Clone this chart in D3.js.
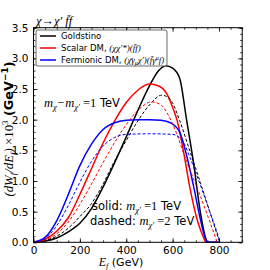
<!DOCTYPE html>
<html>
<head>
<meta charset="utf-8">
<script src="https://cdn.jsdelivr.net/npm/d3@7"></script>
<style>
body { margin: 0; background: #fff; }
svg { display: block; }
.serif { font-family: "Liberation Serif", "DejaVu Serif", serif; font-style: italic; }
.sans { font-family: "DejaVu Sans", sans-serif; }
</style>
</head>
<body>
<svg></svg>
<script>
const width = 270;
const height = 270;
const plotLeft = 33.5, plotRight = 242.2, plotTop = 27.7, plotBottom = 242.3;

// Goldstino
const goldE1 = [0, 50, 100, 150, 200, 250, 300, 350, 400, 450, 500, 540, 570, 600, 630, 660, 690, 720, 740, 750, 800];
const goldW1 = [0, 0.02, 0.07, 0.17, 0.31, 0.55, 0.9, 1.3, 1.72, 2.15, 2.55, 2.8, 2.88, 2.84, 2.68, 2.0, 1.3, 0.48, 0.1, 0, 0];
const goldE2 = [0, 50, 100, 150, 200, 250, 300, 350, 400, 450, 500, 553, 590, 630, 675, 720, 760, 790, 803];
const goldW2 = [0, 0.03, 0.1, 0.23, 0.42, 0.63, 0.95, 1.33, 1.66, 1.98, 2.24, 2.4, 2.33, 1.99, 1.48, 0.97, 0.5, 0.15, 0];
// Scalar DM
const scalE1 = [0, 50, 100, 150, 200, 250, 300, 350, 400, 450, 500, 540, 575, 600, 620, 646, 675, 705, 742];
const scalW1 = [0, 0.05, 0.18, 0.4, 0.78, 1.2, 1.62, 1.98, 2.28, 2.48, 2.58, 2.55, 2.42, 2.2, 1.98, 1.5, 0.88, 0.38, 0];
const scalE2 = [0, 50, 100, 150, 200, 250, 300, 350, 400, 450, 510, 550, 600, 660, 720, 760, 792];
const scalW2 = [0, 0.04, 0.14, 0.33, 0.62, 0.95, 1.3, 1.63, 1.92, 2.15, 2.29, 2.24, 1.93, 1.32, 0.75, 0.34, 0];
// Fermionic DM
const fermE1 = [0, 50, 100, 150, 200, 250, 300, 350, 400, 450, 500, 550, 590, 630, 660, 690, 720, 740, 752, 800];
const fermW1 = [0, 0.08, 0.35, 0.78, 1.25, 1.6, 1.84, 1.95, 1.99, 2.0, 2.0, 1.99, 1.95, 1.8, 1.42, 0.92, 0.37, 0.08, 0, 0];
const fermE2 = [0, 50, 100, 150, 200, 250, 300, 350, 400, 500, 600, 645, 675, 720, 760, 790, 805];
const fermW2 = [0, 0.06, 0.27, 0.6, 0.98, 1.32, 1.57, 1.71, 1.76, 1.77, 1.76, 1.64, 1.38, 0.93, 0.5, 0.18, 0];

const xTicks = [0, 200, 400, 600, 800];
const yTicks = [0.0, 0.5, 1.0, 1.5, 2.0, 2.5, 3.0, 3.5];

let svg = d3.select("svg").attr("width", width).attr("height", height);

let x = d3.scaleLinear().domain([0, 900]).range([plotLeft, plotRight]);
let y = d3.scaleLinear().domain([0, 3.5]).range([plotBottom, plotTop]);

function drawCurve(es, ws, color, dashed) {
    let pts = es.map((e, i) => [e, ws[i]]);
    let line = d3.line().x(d => x(d[0])).y(d => y(d[1])).curve(d3.curveMonotoneX);
    svg.append("path")
        .attr("d", line(pts))
        .attr("fill", "none")
        .attr("stroke", color)
        .attr("stroke-width", dashed ? 1 : 1.5)
        .attr("stroke-dasharray", dashed ? "3,2" : null);
}

drawCurve(goldE1, goldW1, "#000", false);
drawCurve(scalE1, scalW1, "#ff0000", false);
drawCurve(fermE1, fermW1, "#0000ff", false);
drawCurve(goldE2, goldW2, "#000", true);
drawCurve(scalE2, scalW2, "#ff0000", true);
drawCurve(fermE2, fermW2, "#0000ff", true);

// axes, ticks inside on all four sides
function axisGroup(axis, tx, ty) {
    let g = svg.append("g").attr("transform", `translate(${tx},${ty})`).call(axis);
    g.select(".domain").remove();
    g.selectAll("line").attr("stroke", "#000").attr("stroke-width", 0.8);
    return g;
}
const minorX = d3.range(0, 901, 50);
const minorY = d3.range(0, 3.51, 0.1);

let gx = axisGroup(d3.axisBottom(x).tickValues(xTicks).tickSize(-4).tickPadding(4).tickFormat(d3.format("d")), 0, plotBottom);
gx.selectAll("text").attr("font-family", "DejaVu Sans").attr("font-size", 10.5).attr("fill", "#000");
axisGroup(d3.axisBottom(x).tickValues(minorX).tickSize(-2).tickFormat(""), 0, plotBottom);
axisGroup(d3.axisTop(x).tickValues(xTicks).tickSize(-4).tickFormat(""), 0, plotTop);
axisGroup(d3.axisTop(x).tickValues(minorX).tickSize(-2).tickFormat(""), 0, plotTop);

let gy = axisGroup(d3.axisLeft(y).tickValues(yTicks).tickSize(-4).tickPadding(5).tickFormat(d3.format(".1f")), plotLeft, 0);
gy.selectAll("text").attr("font-family", "DejaVu Sans").attr("font-size", 10.5).attr("fill", "#000");
axisGroup(d3.axisLeft(y).tickValues(minorY).tickSize(-2).tickFormat(""), plotLeft, 0);
axisGroup(d3.axisRight(y).tickValues(yTicks).tickSize(-4).tickFormat(""), plotRight, 0);
axisGroup(d3.axisRight(y).tickValues(minorY).tickSize(-2).tickFormat(""), plotRight, 0);

svg.append("rect")
    .attr("x", plotLeft).attr("y", plotTop)
    .attr("width", plotRight - plotLeft).attr("height", plotBottom - plotTop)
    .attr("fill", "none").attr("stroke", "#000").attr("stroke-width", 1);

// legend
let lg = svg.append("g");
lg.append("rect").attr("x", 36).attr("y", 30).attr("width", 131).attr("height", 36)
    .attr("rx", 2).attr("fill", "#fff").attr("fill-opacity", 0.85)
    .attr("stroke", "#444").attr("stroke-width", 0.8);
const legendRows = [
    { color: "#000", y: 36 },
    { color: "#ff0000", y: 48 },
    { color: "#0000ff", y: 60 }
];
legendRows.forEach(r => {
    lg.append("line").attr("x1", 40).attr("x2", 56).attr("y1", r.y).attr("y2", r.y)
        .attr("stroke", r.color).attr("stroke-width", 1.5);
});
lg.append("text").attr("x", 61).attr("y", 39).attr("font-size", 8.5).attr("class", "sans").text("Goldstino");
let t2 = lg.append("text").attr("x", 61).attr("y", 51).attr("font-size", 8.5).attr("class", "sans");
t2.append("tspan").text("Scalar DM, ");
t2.append("tspan").attr("class", "serif").attr("font-size", 9).text("(\u03c7\u03c7\u2032*)(f\u0304f)");
let t3 = lg.append("text").attr("x", 61).attr("y", 63).attr("font-size", 8.5).attr("class", "sans");
t3.append("tspan").text("Fermionic DM, ");
let m3 = t3.append("tspan").attr("class", "serif").attr("font-size", 9);
m3.append("tspan").text("(\u03c7\u0304\u03b3");
m3.append("tspan").attr("font-size", 6).attr("dy", 2).text("\u03bc");
m3.append("tspan").attr("dy", -2).text("\u03c7\u2032)(f\u0304\u03b3");
m3.append("tspan").attr("font-size", 6).attr("dy", -3).text("\u03bc");
m3.append("tspan").attr("dy", 3).text("f)");

// title
svg.append("text").attr("x", 36).attr("y", 25).attr("font-size", 12.5).attr("class", "serif")
    .text("\u03c7\u2192\u03c7\u2032 f\u0304f");

// annotations
function massText(xp, yp, prefix, primeOnly, value) {
    let t = svg.append("text").attr("x", xp).attr("y", yp).attr("font-size", 11.5).attr("class", "sans");
    if (prefix) t.append("tspan").text(prefix);
    let m = t.append("tspan").attr("class", "serif").attr("font-size", 12.5);
    if (!primeOnly) {
        m.append("tspan").text("m");
        m.append("tspan").attr("font-size", 8.5).attr("dy", 2.5).text("\u03c7");
        m.append("tspan").attr("dy", -2.5).text("\u2212m");
    } else {
        m.append("tspan").text("m");
    }
    m.append("tspan").attr("font-size", 8.5).attr("dy", 2.5).text("\u03c7\u2032");
    t.append("tspan").attr("dy", -2.5).attr("font-family", "Liberation Serif").attr("font-style", "normal")
        .attr("font-size", 12.5).text(" =" + value);
    t.append("tspan").text(" TeV");
}
massText(44, 107, null, false, 1);
massText(92, 210, "solid: ", true, 1);
massText(90, 225, "dashed: ", true, 2);

// axis labels
let xl = svg.append("text").attr("x", 121).attr("y", 266).attr("text-anchor", "middle")
    .attr("font-size", 11).attr("class", "sans");
xl.append("tspan").attr("class", "serif").attr("font-size", 12).text("E");
xl.append("tspan").attr("class", "serif").attr("font-size", 8).attr("dy", 2.5).text("f");
xl.append("tspan").attr("dy", -2.5).text(" (GeV)");

let yl = svg.append("text").attr("transform", "translate(13,129) rotate(-90)")
    .attr("text-anchor", "middle").attr("font-size", 12.8).attr("class", "sans");
let ym = yl.append("tspan").attr("class", "serif");
ym.append("tspan").text("(dW");
ym.append("tspan").attr("font-size", 9).attr("dy", 3).text("f");
ym.append("tspan").attr("dy", -3).text("/dE");
ym.append("tspan").attr("font-size", 9).attr("dy", 3).text("f");
ym.append("tspan").attr("dy", -3).text(") ");
ym.append("tspan").attr("font-style", "normal").text("\u00d710");
ym.append("tspan").attr("font-style", "normal").attr("font-size", 9).attr("dy", -5).text("3");
yl.append("tspan").attr("dy", 5).attr("font-weight", "bold").text(" (GeV");
yl.append("tspan").attr("font-weight", "bold").attr("font-size", 9).attr("dy", -5).text("\u22121");
yl.append("tspan").attr("font-weight", "bold").attr("dy", 5).text(")");
</script>
</body>
</html>
